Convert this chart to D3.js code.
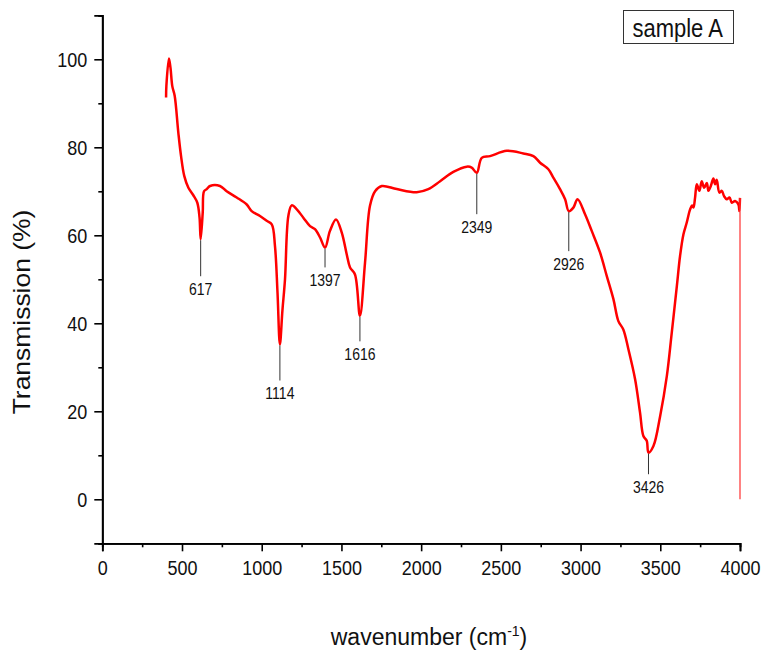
<!DOCTYPE html>
<html>
<head>
<meta charset="utf-8">
<script src="https://cdn.jsdelivr.net/npm/d3@7"></script>
<style>
  body { margin: 0; background: #fff; }
  svg { display: block; font-family: "Liberation Sans", Arial, sans-serif; }
  .tall { transform-box: fill-box; transform-origin: center; transform: scaleY(1.15); }
  .wide { transform-box: fill-box; transform-origin: center; transform: scaleX(1.15); }
</style>
</head>
<body>
<div id="chart"></div>
<script>
// spectrum: wavenumber (cm-1) and transmission (%)
const wavenumber = [400, 402, 418, 428, 439, 454, 477, 494, 514, 540, 571, 596, 610, 617, 630, 638, 655, 676, 738, 780, 843, 906, 937, 989, 1031, 1063, 1083, 1099, 1114, 1130, 1146, 1167, 1188, 1220, 1261, 1303, 1334, 1366, 1397, 1428, 1466, 1502, 1533, 1554, 1585, 1616, 1648, 1679, 1711, 1753, 1847, 1972, 2045, 2119, 2202, 2286, 2317, 2349, 2380, 2432, 2537, 2641, 2704, 2746, 2798, 2829, 2871, 2903, 2926, 2955, 2981, 3028, 3070, 3122, 3164, 3206, 3237, 3268, 3300, 3342, 3373, 3394, 3415, 3426, 3457, 3499, 3541, 3572, 3604, 3624, 3645, 3666, 3687, 3700, 3708, 3718, 3729, 3745, 3760, 3775, 3792, 3802, 3817, 3833, 3844, 3854, 3871, 3886, 3900, 3917, 3934, 3949, 3969, 3990, 3996, 4000, 4000];
const transmission = [91.3, 94, 100.2, 98, 93.9, 91.7, 83.3, 78, 73.5, 70.8, 69.1, 67.4, 64, 59.1, 65.2, 70, 70.5, 71.2, 71.2, 70, 68.6, 67, 65.5, 64.4, 63.3, 62.5, 57.6, 47, 35.2, 43, 50, 64.4, 66.8, 65.9, 64, 62.1, 61.4, 59.5, 57.2, 61, 63.6, 60.6, 55.7, 52.7, 51.1, 41.7, 53.8, 66.7, 70, 71.2, 70.5, 69.8, 70.5, 72.3, 74.4, 75.6, 75.4, 74.2, 77.6, 78, 79.2, 78.6, 78, 76.5, 75, 73.1, 70.5, 68.2, 65.5, 66.3, 68.2, 64.8, 61, 56.1, 50.8, 45.5, 40.5, 38.6, 34.1, 27.3, 19.7, 14.4, 13.3, 10.6, 12.1, 18.9, 28, 37.9, 48.5, 55.3, 60.2, 62.9, 65.9, 66.8, 66.3, 68.5, 71.6, 70.1, 72.3, 70.8, 71.9, 70.1, 71.2, 72.9, 71.6, 72.6, 69.7, 70.1, 68.9, 68.2, 68.6, 67.4, 67.8, 67.0, 65.5, 68.5, 0];

// labelled bands and the level where each marker line ends
const peaks = [617, 1114, 1397, 1616, 2349, 2926, 3426];
const peakLabelLevel = [50.7, 27, 52.7, 35.9, 64.8, 56.4, 5.7];

const xTicks = [0, 500, 1000, 1500, 2000, 2500, 3000, 3500, 4000];
const xMinorTicks = [250, 750, 1250, 1750, 2250, 2750, 3250, 3750];
const yTicks = [0, 20, 40, 60, 80, 100];
const yMinorTicks = [-10, 10, 30, 50, 70, 90, 110];

const seriesName = "sample A";

const width = 763, height = 652;
const margin = { top: 15.3, right: 23, bottom: 108.7, left: 102.3 };

const svg = d3.select("#chart").append("svg")
  .attr("width", width)
  .attr("height", height);

const x = d3.scaleLinear().domain([0, 4000]).range([margin.left, 740]);
const y = d3.scaleLinear().domain([-10, 110]).range([543.3, margin.top]);

const data = wavenumber.map((w, i) => ({ w: w, t: transmission[i] }));

// axes: minor ticks first, then major ticks with labels
const xAxisG = svg.append("g").attr("transform", `translate(0,${y(-10)})`);
xAxisG.call(d3.axisBottom(x).tickValues(xMinorTicks).tickSize(4).tickFormat(""));
const xMajor = svg.append("g").attr("transform", `translate(0,${y(-10)})`)
  .call(d3.axisBottom(x).tickValues(xTicks).tickSize(8).tickPadding(10).tickFormat(d3.format("d")));

const yAxisG = svg.append("g").attr("transform", `translate(${x(0)},0)`);
yAxisG.call(d3.axisLeft(y).tickValues(yMinorTicks).tickSize(4).tickFormat(""));
const yMajor = svg.append("g").attr("transform", `translate(${x(0)},0)`)
  .call(d3.axisLeft(y).tickValues(yTicks).tickSize(8).tickPadding(7).tickFormat(d3.format("d")));

svg.selectAll(".domain").attr("stroke", "#000").attr("stroke-width", 1.8);
svg.selectAll(".tick line").attr("stroke", "#000").attr("stroke-width", 1.6);
svg.selectAll(".tick text")
  .attr("fill", "#111")
  .style("font-size", "18px")
  .style("font-family", "'Liberation Sans', Arial, sans-serif")
  .classed("tall", true);

// spectrum line
const line = d3.line().x(d => x(d.w)).y(d => y(d.t)).curve(d3.curveCatmullRom.alpha(0.5));
svg.append("path")
  .datum(data.slice(0, -1))
  .attr("fill", "none")
  .attr("stroke", "#ff0000")
  .attr("stroke-width", 2.5)
  .attr("stroke-linejoin", "round")
  .attr("d", line);
// the closing drop at 4000 is drawn thin
svg.append("path")
  .datum(data.slice(-2))
  .attr("fill", "none")
  .attr("stroke", "#ff3030")
  .attr("stroke-width", 1.2)
  .attr("d", d3.line().x(d => x(d.w)).y(d => y(d.t)));

// peak markers
peaks.forEach((p, i) => {
  let nearest = data[d3.minIndex(data, d => Math.abs(d.w - p))];
  const px = x(p);
  const y1 = y(nearest.t) + 1;
  const y2 = y(peakLabelLevel[i]);
  svg.append("line")
    .attr("x1", px).attr("x2", px)
    .attr("y1", y1).attr("y2", y2)
    .attr("stroke", "#333")
    .attr("stroke-width", 1);
  svg.append("text")
    .attr("class", "tall")
    .attr("x", px)
    .attr("y", y2 + 18)
    .attr("text-anchor", "middle")
    .style("font-size", "14px")
    .attr("fill", "#111")
    .text(p);
});

// legend box
svg.append("rect")
  .attr("x", 623.5).attr("y", 10.5)
  .attr("width", 110).attr("height", 33)
  .attr("fill", "#fff")
  .attr("stroke", "#333")
  .attr("stroke-width", 1);
svg.append("text")
  .attr("class", "tall")
  .attr("x", 632.5).attr("y", 35.5)
  .style("font-size", "22px")
  .attr("fill", "#111")
  .text(seriesName);

// axis titles
const xt = svg.append("text")
  .attr("x", 429).attr("y", 645)
  .attr("text-anchor", "middle")
  .style("font-size", "23px")
  .attr("fill", "#111");
xt.append("tspan").text("wavenumber (cm");
xt.append("tspan").attr("dy", -9).style("font-size", "14px").text("-1");
xt.append("tspan").attr("dy", 9).text(")");

svg.append("g")
  .attr("transform", "translate(30,312) rotate(-90)")
  .append("text")
  .attr("class", "wide")
  .attr("text-anchor", "middle")
  .style("font-size", "23px")
  .attr("fill", "#111")
  .text("Transmission (%)");
</script>
</body>
</html>
